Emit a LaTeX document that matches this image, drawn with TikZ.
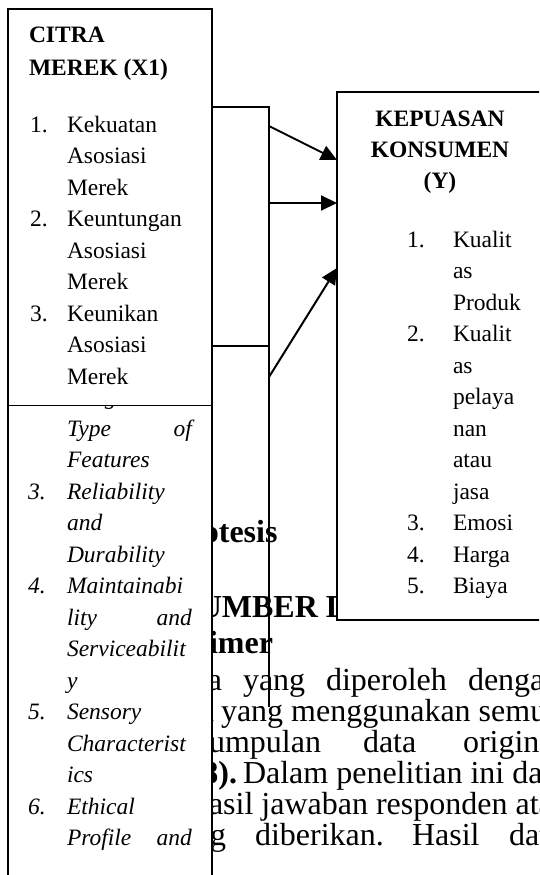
\documentclass[tikz,border=0pt]{standalone}
\usepackage{fontspec}
\setmainfont{Liberation Serif}
\usetikzlibrary{arrows.meta}
\tikzset{
  boxtxt/.style={anchor=base west, inner sep=0pt, outer sep=0pt, font=\fontsize{23.5}{28}\selectfont},
  boxit/.style={anchor=base west, inner sep=0pt, outer sep=0pt, font=\fontsize{23.5}{28}\selectfont\itshape},
  boxhd/.style={anchor=base west, inner sep=0pt, outer sep=0pt, font=\fontsize{23.5}{28}\selectfont\bfseries},
  body/.style={anchor=base west, inner sep=0pt, outer sep=0pt, font=\fontsize{32}{32}\selectfont},
  bodyhd/.style={inner sep=0pt, outer sep=0pt, font=\fontsize{32}{32}\selectfont\bfseries},
  frame/.style={draw, fill=white, line width=1.3pt, inner sep=0pt, outer sep=0pt, anchor=north west},
  link/.style={line width=1.5pt},
  arr/.style={line width=2pt, -{Triangle[length=16pt,width=15pt]}}
}
\begin{document}
\begin{tikzpicture}[x=1pt,y=-1pt]
\useasboundingbox (0,0) rectangle (539,875);
\clip (0,0) rectangle (539,875);
\fill[white] (0,0) rectangle (539,875);

% ---- page text behind the boxes ----
\node[bodyhd, anchor=base east] (h1) at (277.5,542) {Hipotesis};
\node[bodyhd, anchor=base west] (h2) at (181,617) {SUMBER DATA};
\node[bodyhd, anchor=base east] (h3) at (273,653) {Data Primer};

\node[body, anchor=base east] (l1a) at (222,690) {data};
\node[body] (l1b) at (243,690) {yang};
\node[body] (l1c) at (326,690) {diperoleh};
\node[body] (l1d) at (468,690) {dengan};

\node[body, anchor=base east] (l2a) at (214,721) {data};
\node[body] (l2b) at (221,721) {yang menggunakan semua};

\node[body, anchor=base east] (l3a) at (321,752) {pengumpulan};
\node[body] (l3b) at (363,752) {data};
\node[body] (l3c) at (463,752) {original};

\node[body, anchor=base east] (l4a) at (237,783) {\textbf{2018).}};
\node[body] (l4b) at (243,783) {Dalam penelitian ini data};

\node[body] (l5) at (193,814) {hasil jawaban responden atas};

\node[body, anchor=base east] (l6a) at (226,845) {yang};
\node[body] (l6b) at (255,845) {diberikan.};
\node[body] (l6c) at (412,845) {Hasil};
\node[body] (l6d) at (509,845) {data};

% ---- lower left box (X2) ----
\node[frame, minimum width=204pt, minimum height=620pt] (x2) at (8,300) {};
\node[boxit] (b0n) at (28,404.5) {2.};
\node[boxit] (b0) at (67,404.5) {\makebox[125pt][s]{Range and}};
\node[boxit] (b1) at (67,436) {\makebox[125pt][s]{Type of}};
\node[boxit] (b2) at (67,467.5) {Features};
\node[boxit] (b3n) at (28,499) {3.};
\node[boxit] (b3) at (67,499) {Reliability};
\node[boxit] (b4) at (67,530.5) {and};
\node[boxit] (b5) at (67,562) {Durability};
\node[boxit] (b6n) at (28,593.5) {4.};
\node[boxit] (b6) at (67,593.5) {Maintainabi};
\node[boxit] (b7) at (67,625) {\makebox[125pt][s]{lity and}};
\node[boxit] (b8) at (67,656.5) {Serviceabilit};
\node[boxit] (b9) at (67,688) {y};
\node[boxit] (b10n) at (28,719.5) {5.};
\node[boxit] (b10) at (67,719.5) {Sensory};
\node[boxit] (b11) at (67,751) {Characterist};
\node[boxit] (b12) at (67,782.5) {ics};
\node[boxit] (b13n) at (28,814) {6.};
\node[boxit] (b13) at (67,814) {Ethical};
\node[boxit] (b14) at (67,845.5) {\makebox[125pt][s]{Profile and}};

% ---- upper left box (X1) ----
\node[frame, minimum width=204pt, minimum height=396.5pt] (x1) at (8,9) {};
\node[boxhd] (a0) at (29,43) {CITRA};
\node[boxhd] (a00) at (29,75) {MEREK (X1)};
\node[boxtxt] (a1n) at (30,132) {1.};
\node[boxtxt] (a1) at (67,132) {Kekuatan};
\node[boxtxt] (a2) at (67,163.5) {Asosiasi};
\node[boxtxt] (a3) at (67,195) {Merek};
\node[boxtxt] (a4n) at (30,226.5) {2.};
\node[boxtxt] (a4) at (67,226.5) {Keuntungan};
\node[boxtxt] (a5) at (67,258) {Asosiasi};
\node[boxtxt] (a6) at (67,289.5) {Merek};
\node[boxtxt] (a7n) at (30,321) {3.};
\node[boxtxt] (a7) at (67,321) {Keunikan};
\node[boxtxt] (a8) at (67,352.5) {Asosiasi};
\node[boxtxt] (a9) at (67,384) {Merek};

% ---- right box (Y) ----
\node[frame, minimum width=230pt, minimum height=528pt] (y) at (337,92) {};
\node[boxhd, anchor=base] (yh1) at (440,126) {KEPUASAN};
\node[boxhd, anchor=base] (yh2) at (440,157) {KONSUMEN};
\node[boxhd, anchor=base] (yh3) at (440,188) {(Y)};
\node[boxtxt] (y1n) at (407,247) {1.};
\node[boxtxt] (y1) at (453,247) {Kualit};
\node[boxtxt] (y2) at (453,278.5) {as};
\node[boxtxt] (y3) at (453,310) {Produk};
\node[boxtxt] (y4n) at (407,341.5) {2.};
\node[boxtxt] (y4) at (453,341.5) {Kualit};
\node[boxtxt] (y5) at (453,373) {as};
\node[boxtxt] (y6) at (453,404.5) {pelaya};
\node[boxtxt] (y7) at (453,436) {nan};
\node[boxtxt] (y8) at (453,467.5) {atau};
\node[boxtxt] (y9) at (453,499) {jasa};
\node[boxtxt] (y10n) at (407,530.5) {3.};
\node[boxtxt] (y10) at (453,530.5) {Emosi};
\node[boxtxt] (y11n) at (407,562) {4.};
\node[boxtxt] (y11) at (453,562) {Harga};
\node[boxtxt] (y12n) at (407,593.5) {5.};
\node[boxtxt] (y12) at (453,593.5) {Biaya};

% ---- connectors ----
\coordinate (jt) at (269,107);
\coordinate (jb) at (269,707);
\coordinate (jl) at (269,346);
\coordinate (s1) at (269,126);
\coordinate (s2) at (269,203);
\coordinate (s3) at (269,377);
\draw[link] (x1.east |- jt) -- (jt) -- (jb);
\draw[link] (x1.east |- jl) -- (jl);
\draw[arr] (s1) -- (y.west |- 0,160);
\draw[arr] (s2) -- (y.west |- s2);
\draw[arr] (s3) -- (y.west |- 0,268);
\end{tikzpicture}
\end{document}
